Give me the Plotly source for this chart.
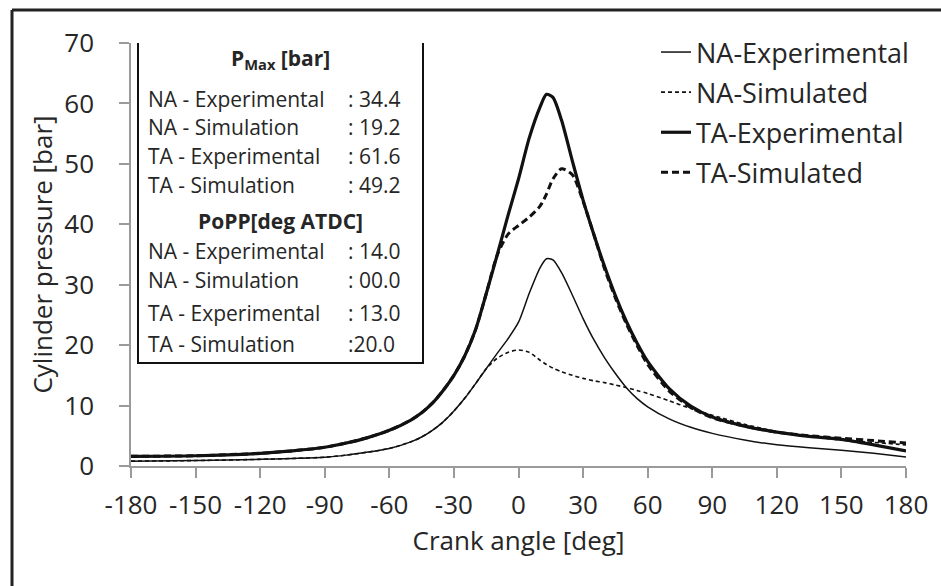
import plotly.graph_objects as go

# ---- data ----
crank_angle = [-180, -150, -120, -105, -90, -80, -70, -60, -50, -45, -40, -35, -30, -25, -20, -15,
               -10, -5, 0, 5, 10, 13, 16, 20, 25, 30, 35, 40, 45, 50, 55, 60, 70, 80, 90, 105,
               120, 135, 150, 165, 180]

na_experimental = [0.8, 0.9, 1.1, 1.25, 1.45, 1.8, 2.3, 2.9, 4.0, 4.8, 5.9, 7.3, 9.1, 11.2, 13.6, 16.1,
                   18.6, 21.0, 23.8, 28.6, 32.8, 34.3, 34.1, 32.0, 28.3, 24.4, 20.9, 17.9, 15.3, 13.0, 11.2,
                   9.8, 7.8, 6.4, 5.4, 4.3, 3.5, 3.0, 2.6, 2.1, 1.5]

na_simulated = [0.8, 0.9, 1.1, 1.25, 1.45, 1.8, 2.3, 2.9, 4.0, 4.8, 5.9, 7.3, 9.1, 11.2, 13.6, 16.1,
                17.8, 18.8, 19.2, 18.8, 17.5, 16.8, 16.2, 15.6, 15.0, 14.5, 14.1, 13.8, 13.4, 13.0, 12.5,
                12.0, 10.8, 9.5, 8.4, 6.9, 5.7, 4.9, 4.3, 3.9, 3.5]

ta_experimental = [1.6, 1.7, 2.1, 2.5, 3.1, 3.8, 4.7, 5.9, 7.6, 8.8, 10.4, 12.5, 15.0, 18.2, 22.5, 28.5,
                   34.8, 41.3, 47.5, 54.3, 59.4, 61.5, 61.0, 57.2, 50.5, 44.0, 38.3, 33.0, 28.2, 24.0, 20.4,
                   17.3, 12.8, 9.9, 8.1, 6.6, 5.6, 4.9, 4.4, 3.5, 2.5]

ta_simulated = [1.6, 1.7, 2.1, 2.5, 3.1, 3.8, 4.7, 5.9, 7.6, 8.8, 10.4, 12.5, 15.0, 18.2, 22.5, 28.5,
                34.8, 38.3, 39.8, 41.2, 43.0, 45.0, 47.5, 49.2, 48.2, 43.8, 38.3, 32.6, 27.8, 23.6, 20.0,
                16.8, 12.4, 9.7, 8.0, 6.6, 5.6, 5.0, 4.6, 4.2, 3.8]

series_names = ["NA-Experimental", "NA-Simulated", "TA-Experimental", "TA-Simulated"]

x_ticks = [-180, -150, -120, -90, -60, -30, 0, 30, 60, 90, 120, 150, 180]
y_ticks = [0, 10, 20, 30, 40, 50, 60, 70]

pmax_title = "P<sub>Max</sub> [bar]"
pmax_labels = ["NA - Experimental", "NA - Simulation", "TA - Experimental", "TA - Simulation"]
pmax_values = [": 34.4", ": 19.2", ": 61.6", ": 49.2"]
popp_title = "PoPP[deg ATDC]"
popp_labels = ["NA - Experimental", "NA - Simulation", "TA - Experimental", "TA - Simulation"]
popp_values = [": 14.0", ": 00.0", ": 13.0", ":20.0"]

# ---- styling ----
FONT = "'Open Sans', Lato, sans-serif"
TXT = "#262626"
INK = "#111111"
AX_SIZE = 26
LEG_SIZE = 27
BOX_SIZE = 21

fig = go.Figure()
styles = [
    dict(width=1.5, dash="solid"),
    dict(width=1.6, dash="4px,3px"),
    dict(width=3.2, dash="solid"),
    dict(width=3.0, dash="7px,4px"),
]
for i, (name, ys) in enumerate(zip(series_names,
                                   [na_experimental, na_simulated, ta_experimental, ta_simulated])):
    fig.add_trace(go.Scatter(
        x=crank_angle, y=ys, mode="lines", name=name, legendgroup=name,
        line=dict(color=INK, width=styles[i]["width"], dash=styles[i]["dash"],
                  shape="spline", smoothing=0.7),
    ))

W, H = 941, 586
L, R, T, B = 131, 35, 43, 120
plot_w = W - L - R
plot_h = H - T - B


def px_to_x(px):
    return -180 + (px - L) / plot_w * 360


def py_to_y(py):
    return (H - B - py) / plot_h * 70


annotations = []
box_x0, box_x1 = px_to_x(138), px_to_x(423)
box_y0, box_y1 = py_to_y(363), py_to_y(42)
box_cx = (box_x0 + box_x1) / 2
lab_x = px_to_x(146)
val_x = px_to_x(346)
row_py = [99, 127, 156, 185, 251, 280, 313, 344]

annotations.append(dict(x=box_cx, y=py_to_y(59), text="<b>" + pmax_title + "</b>",
                        showarrow=False, xanchor="center", yanchor="middle",
                        font=dict(size=BOX_SIZE, color=TXT, family=FONT)))
annotations.append(dict(x=box_cx, y=py_to_y(221), text="<b>" + popp_title + "</b>",
                        showarrow=False, xanchor="center", yanchor="middle",
                        font=dict(size=BOX_SIZE, color=TXT, family=FONT)))
for k, (lab, val) in enumerate(zip(pmax_labels + popp_labels, pmax_values + popp_values)):
    annotations.append(dict(x=lab_x, y=py_to_y(row_py[k]), text=lab, showarrow=False,
                            xanchor="left", yanchor="middle",
                            font=dict(size=BOX_SIZE, color=TXT, family=FONT)))
    annotations.append(dict(x=val_x, y=py_to_y(row_py[k]), text=val, showarrow=False,
                            xanchor="left", yanchor="middle",
                            font=dict(size=BOX_SIZE, color=TXT, family=FONT)))

shapes = [
    dict(type="rect", xref="x", yref="y", x0=box_x0, x1=box_x1, y0=box_y0, y1=box_y1,
         line=dict(color=INK, width=2), fillcolor="white", layer="above"),
    # outer frame (left and top edges visible)
    dict(type="line", xref="paper", yref="paper",
         x0=(12 - L) / plot_w, x1=(12 - L) / plot_w, y0=(H - B - 600) / plot_h, y1=(H - B - 10) / plot_h,
         line=dict(color="#222222", width=3)),
    dict(type="line", xref="paper", yref="paper",
         x0=(12 - L) / plot_w, x1=(960 - L) / plot_w, y0=(H - B - 10) / plot_h, y1=(H - B - 10) / plot_h,
         line=dict(color="#222222", width=3)),
]

fig.update_layout(
    width=W, height=H,
    margin=dict(l=L, r=R, t=T, b=B, pad=0),
    paper_bgcolor="white", plot_bgcolor="white",
    font=dict(family=FONT, color=TXT, size=AX_SIZE),
    showlegend=True,
    legend=dict(x=(656 - L) / plot_w, xanchor="left", y=(H - B - 28) / plot_h, yanchor="top",
                bgcolor="rgba(0,0,0,0)", font=dict(size=LEG_SIZE, color=TXT, family=FONT),
                tracegroupgap=2, itemwidth=30),
    xaxis=dict(range=[-180, 180], tickmode="array", tickvals=x_ticks,
               ticktext=[str(v) for v in x_ticks],
               showgrid=False, zeroline=False, showline=True, linecolor="#9a9a9a", linewidth=1.5,
               ticks="outside", ticklen=10, tickcolor="#9a9a9a", tickwidth=1.5,
               ticklabelstandoff=5,
               tickfont=dict(size=AX_SIZE, color=TXT, family=FONT),
               title=dict(text="Crank angle [deg]", font=dict(size=AX_SIZE, color=TXT, family=FONT),
                          standoff=2)),
    yaxis=dict(range=[0, 70], tickmode="array", tickvals=y_ticks,
               showgrid=False, zeroline=False, showline=True, linecolor="#9a9a9a", linewidth=1.5,
               ticks="outside", ticklen=10, tickcolor="#9a9a9a", tickwidth=1.5,
               ticklabelstandoff=20,
               tickfont=dict(size=AX_SIZE, color=TXT, family=FONT),
               title=dict(text="Cylinder pressure [bar]", font=dict(size=AX_SIZE, color=TXT, family=FONT),
                          standoff=4)),
    shapes=shapes,
    annotations=annotations,
)

fig.write_html("out.html")
